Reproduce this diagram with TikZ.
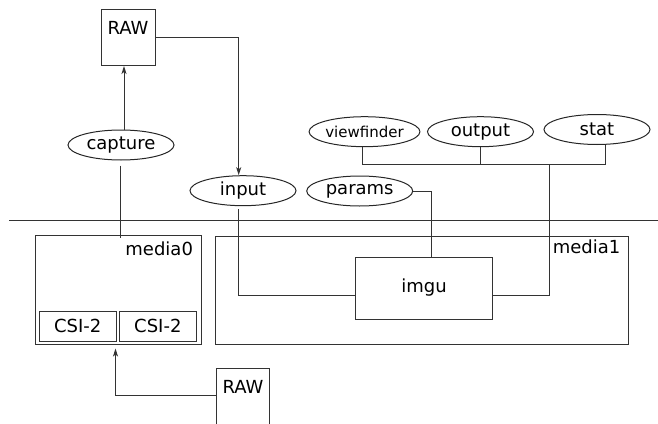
\documentclass[tikz,border=0pt]{standalone}
\usepackage{fontspec}
\setmainfont{DejaVu Sans}
\usetikzlibrary{arrows.meta,calc,shapes.geometric}
\begin{document}
\begin{tikzpicture}[x=1pt,y=-1pt,
  every node/.style={font=\fontsize{18}{21}\selectfont},
  wire/.style={draw=black!80,line width=1pt},
  arr/.style={wire,-{Stealth[length=8pt,width=5pt,inset=2pt]}},
  pad/.style={draw=black!85,ellipse,line width=1pt,minimum width=106pt,minimum height=30pt,inner sep=0pt},
  blk/.style={draw=black!80,rectangle,line width=1pt,inner sep=0pt},
  rawbox/.style={blk,anchor=north,minimum width=54pt,text height=25.3pt,text depth=30.7pt},
  csibox/.style={blk,minimum height=29.3pt},
]
\useasboundingbox (0,0) rectangle (658,423);

% memory buffers
\node[rawbox] (rawtop) at (128,9) {RAW};
\node[rawbox,minimum width=52.6pt,text height=25pt,text depth=45pt] (rawbot) at (243,367.7) {RAW};

% video nodes
\node[pad] (capture) at (121,145) {capture};
\node[pad] (input) at (243,190.7) {input};
\node[pad] (params) at (359.7,191) {params};
\node[pad,font=\fontsize{15}{18}\selectfont] (viewfinder) at (364.5,131.7) {viewfinder};
\node[pad] (output) at (480.5,131.7) {output};
\node[pad] (stat) at (597,129.5) {stat};

% kernel / user space boundary
\draw[wire] (9,220.7) -- (658,220.7);

% media devices
\node[blk,minimum width=166.3pt,minimum height=108.3pt,
  label={[anchor=base east,xshift=-5.3pt,yshift=-20pt]north east:media0}] (media0) at (118.15,289.85) {};
\node[blk,minimum width=413.4pt,minimum height=108pt,
  label={[anchor=base east,xshift=-5.4pt,yshift=-17.5pt]north east:media1}] (media1) at (422,290.7) {};
\node[csibox,minimum width=77pt] (csiA) at (77.8,326.35) {CSI-2};
\node[csibox,minimum width=77.7pt] (csiB) at (157.85,326.35) {CSI-2};
\node[blk,minimum width=136.6pt,minimum height=62pt] (imgu) at (424,288) {imgu};

% links
\draw[arr] ([xshift=3pt]capture.north) -- ([xshift=-4pt]rawtop.south);
\draw[wire] ([xshift=-0.3pt,yshift=-5pt]capture.south) -- ($(capture.south |- media0.north)+(-0.3,3)$);
\draw[arr] (rawtop.east) -| ([xshift=-4.3pt]input.north);
\draw[wire] ([xshift=-4.3pt,yshift=-3pt]input.south) |- ([yshift=-7pt]imgu.west);
\draw[wire] (params.east) -| ([xshift=7.3pt]imgu.north);
\coordinate (bus) at (549.3,164);
\draw[wire] ([xshift=-1.8pt]viewfinder.south) |- (bus);
\draw[wire] ([xshift=8.3pt]stat.south) |- (bus);
\draw[wire] (output.south) -- (output.south |- bus);
\draw[wire] ([yshift=-7pt]imgu.east) -| (bus);
\draw[arr] ([yshift=-27.3pt]rawbot.north west) -| ([xshift=-1.3pt,yshift=-7pt]csiA.south east);
\end{tikzpicture}
\end{document}
